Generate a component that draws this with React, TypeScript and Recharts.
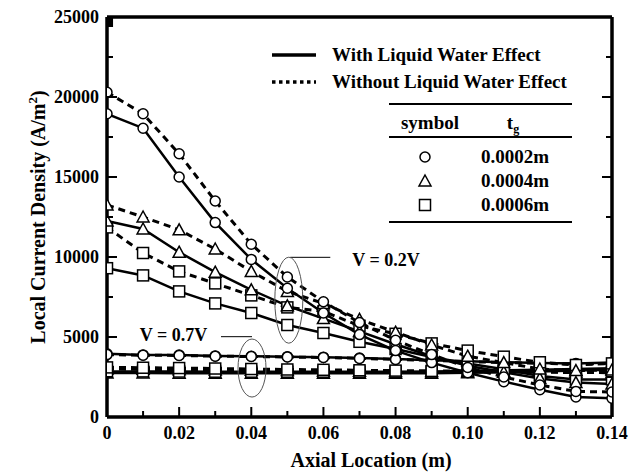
import { LineChart, Line, XAxis, YAxis, ReferenceDot, ReferenceLine } from "recharts";

const FONT = "'Liberation Serif', 'Times New Roman', serif";

// axial positions along the channel (m)
const axialLocation = [0, 0.01, 0.02, 0.03, 0.04, 0.05, 0.06, 0.07, 0.08, 0.09, 0.1, 0.11, 0.12, 0.13, 0.14];

const xTicks = [0, 0.01, 0.02, 0.03, 0.04, 0.05, 0.06, 0.07, 0.08, 0.09, 0.1, 0.11, 0.12, 0.13, 0.14];
const yTicks = [0, 2500, 5000, 7500, 10000, 12500, 15000, 17500, 20000, 22500, 25000];

// V = 0.2 V
const v02WithCircle = [18950, 18050, 15000, 12150, 9850, 8050, 6500, 5150, 4150, 3400, 2770, 2210, 1700, 1250, 1170];
const v02WithoutCircle = [20300, 18950, 16450, 13500, 10800, 8750, 7200, 5900, 4800, 3900, 3100, 2500, 2000, 1600, 1560];
const v02WithTriangle = [12250, 11750, 10300, 9050, 7950, 6950, 6150, 5350, 4550, 3800, 3200, 2800, 2400, 2150, 2060];
const v02WithoutTriangle = [13250, 12500, 11700, 10500, 9100, 7850, 7100, 6100, 5300, 4500, 3800, 3400, 3000, 2900, 2940];
const v02WithSquare = [9300, 8850, 7850, 7100, 6500, 5750, 5250, 4700, 4250, 3750, 3350, 2980, 2560, 2350, 2350];
const v02WithoutSquare = [11850, 10250, 9100, 8350, 7600, 6850, 6600, 5700, 5200, 4600, 4150, 3770, 3420, 3250, 3350];

// V = 0.7 V
const v07WithCircle = [3950, 3880, 3870, 3820, 3800, 3770, 3740, 3680, 3620, 3550, 3480, 3420, 3380, 3350, 3400];
const v07WithoutCircle = [3900, 3860, 3850, 3800, 3780, 3750, 3720, 3660, 3600, 3530, 3460, 3400, 3350, 3320, 3350];
const v07WithTriangle = [2750, 2750, 2740, 2740, 2730, 2730, 2730, 2730, 2730, 2740, 2760, 2800, 2850, 2900, 2950];
const v07WithoutTriangle = [3000, 2980, 2960, 2940, 2920, 2900, 2880, 2860, 2850, 2840, 2830, 2820, 2800, 2780, 2770];
const v07WithSquare = [2850, 2850, 2840, 2830, 2830, 2830, 2830, 2830, 2830, 2840, 2870, 2920, 2960, 3000, 3050];
const v07WithoutSquare = [3100, 3080, 3060, 3030, 3000, 2970, 2950, 2920, 2900, 2880, 2870, 2850, 2830, 2800, 2780];

type Shape = "circle" | "triangle" | "square";

const series: { key: string; values: number[]; shape: Shape; dashed: boolean }[] = [
  { key: "v07WithTriangle", values: v07WithTriangle, shape: "triangle", dashed: false },
  { key: "v07WithoutTriangle", values: v07WithoutTriangle, shape: "triangle", dashed: true },
  { key: "v07WithSquare", values: v07WithSquare, shape: "square", dashed: false },
  { key: "v07WithoutSquare", values: v07WithoutSquare, shape: "square", dashed: true },
  { key: "v07WithCircle", values: v07WithCircle, shape: "circle", dashed: false },
  { key: "v07WithoutCircle", values: v07WithoutCircle, shape: "circle", dashed: true },
  { key: "v02WithSquare", values: v02WithSquare, shape: "square", dashed: false },
  { key: "v02WithoutSquare", values: v02WithoutSquare, shape: "square", dashed: true },
  { key: "v02WithTriangle", values: v02WithTriangle, shape: "triangle", dashed: false },
  { key: "v02WithoutTriangle", values: v02WithoutTriangle, shape: "triangle", dashed: true },
  { key: "v02WithCircle", values: v02WithCircle, shape: "circle", dashed: false },
  { key: "v02WithoutCircle", values: v02WithoutCircle, shape: "circle", dashed: true },
];

const rows = axialLocation.map((x, i) => {
  const row: Record<string, number> = { x };
  series.forEach((s) => (row[s.key] = s.values[i]));
  return row;
});

function Marker({ cx, cy, shape }: { cx: number; cy: number; shape: Shape }) {
  const st = { fill: "#fff", stroke: "#000", strokeWidth: 1.5 };
  if (shape === "circle") return <circle cx={cx} cy={cy} r={5} {...st} />;
  if (shape === "triangle")
    return <polygon points={`${cx},${cy - 6} ${cx + 6},${cy + 5} ${cx - 6},${cy + 5}`} {...st} />;
  return <rect x={cx - 5.5} y={cy - 5.5} width={11} height={11} {...st} />;
}

const isMajorX = (v: number) => Math.round(v * 100) % 2 === 0;
const isMajorY = (v: number) => v % 5000 === 0;
const fmtX = (v: number) => (v === 0 ? "0" : v.toFixed(2));

const tickText = { fontFamily: FONT, fontWeight: 700, fontSize: 18, fill: "#000" };

function BottomTick(props: any) {
  const { x, y, payload } = props;
  const major = isMajorX(payload.value);
  return (
    <g>
      <line x1={x} y1={y} x2={x} y2={y - (major ? 10 : 6)} stroke="#000" strokeWidth={2} />
      {major && (
        <text x={x} y={y + 22} textAnchor="middle" {...tickText}>
          {fmtX(payload.value)}
        </text>
      )}
    </g>
  );
}

function TopTick(props: any) {
  const { x, y, payload } = props;
  const major = isMajorX(payload.value);
  return <line x1={x} y1={y} x2={x} y2={y + (major ? 10 : 6)} stroke="#000" strokeWidth={2} />;
}

function LeftTick(props: any) {
  const { x, y, payload } = props;
  const major = isMajorY(payload.value);
  return (
    <g>
      <line x1={x} y1={y} x2={x + (major ? 10 : 6)} y2={y} stroke="#000" strokeWidth={2} />
      {major && (
        <text x={x - 8} y={y} dy="0.35em" textAnchor="end" {...tickText}>
          {payload.value}
        </text>
      )}
    </g>
  );
}

function RightTick(props: any) {
  const { x, y, payload } = props;
  const major = isMajorY(payload.value);
  return <line x1={x} y1={y} x2={x - (major ? 10 : 6)} y2={y} stroke="#000" strokeWidth={2} />;
}

const axisLine = { stroke: "#000", strokeWidth: 3.5 };

const labelText = { fontFamily: FONT, fontWeight: 700, fontSize: 18, fill: "#000" };
const legendText = { fontFamily: FONT, fontWeight: 700, fontSize: 19, fill: "#000" };

function VoltageLabel(text: string) {
  return (p: any) => (
    <text x={p.cx} y={p.cy} dy="0.35em" textAnchor="start" {...labelText}>
      {text}
    </text>
  );
}

function Ellipse(rx: number, ry: number) {
  return (p: any) => <ellipse cx={p.cx} cy={p.cy} rx={rx} ry={ry} fill="none" stroke="#555" strokeWidth={1} />;
}

function LegendOverlay() {
  return (
    <svg width={637} height={474} style={{ position: "absolute", left: 0, top: 0, pointerEvents: "none" }}>
      <g {...legendText}>
        <line x1={272} y1={55} x2={316} y2={55} stroke="#000" strokeWidth={3.5} />
        <text x={332} y={61}>With Liquid Water Effect</text>
        <line x1={272} y1={82} x2={316} y2={82} stroke="#000" strokeWidth={3.5} strokeDasharray="3.5 3.5" />
        <text x={332} y={88}>Without Liquid Water Effect</text>

        <line x1={389} y1={104} x2={572} y2={104} stroke="#000" strokeWidth={2} />
        <text x={430} y={129} textAnchor="middle">symbol</text>
        <text x={513} y={129} textAnchor="middle">
          t<tspan fontSize={12} dy={4}>g</tspan>
        </text>
        <line x1={389} y1={137} x2={572} y2={137} stroke="#000" strokeWidth={2} />

        <Marker cx={425} cy={157} shape="circle" />
        <text x={481} y={163}>0.0002m</text>
        <Marker cx={425} cy={181} shape="triangle" />
        <text x={481} y={187}>0.0004m</text>
        <Marker cx={425} cy={205} shape="square" />
        <text x={481} y={211}>0.0006m</text>
        <line x1={389} y1={222} x2={572} y2={222} stroke="#000" strokeWidth={2} />
      </g>

      <text x={371} y={467} textAnchor="middle" fontFamily={FONT} fontWeight={700} fontSize={20}>
        Axial Location (m)
      </text>
      <text
        x={45}
        y={217}
        textAnchor="middle"
        transform="rotate(-90 45 217)"
        fontFamily={FONT}
        fontWeight={700}
        fontSize={20}
      >
        Local Current Density (A/m<tspan fontSize={13} dy={-8}>2</tspan>
        <tspan dy={8}>)</tspan>
      </text>
    </svg>
  );
}

export default function App() {
  return (
    <div style={{ position: "absolute", left: 0, top: 0, width: 637, height: 474, background: "#fff" }}>
      <LineChart width={637} height={474} data={rows} margin={{ top: 12, right: 15, bottom: 27, left: 47 }}>
        <XAxis
          dataKey="x"
          type="number"
          domain={[0, 0.14]}
          ticks={xTicks}
          interval={0}
          height={30}
          tickSize={0}
          tickMargin={0}
          axisLine={axisLine}
          tickLine={false}
          tick={BottomTick}
          allowDataOverflow
        />
        <XAxis
          xAxisId="top"
          orientation="top"
          type="number"
          domain={[0, 0.14]}
          ticks={xTicks}
          interval={0}
          height={5}
          tickSize={0}
          tickMargin={0}
          axisLine={axisLine}
          tickLine={false}
          tick={TopTick}
          allowDataOverflow
        />
        <YAxis
          type="number"
          domain={[0, 25000]}
          ticks={yTicks}
          interval={0}
          width={60}
          tickSize={0}
          tickMargin={0}
          axisLine={axisLine}
          tickLine={false}
          tick={LeftTick}
          allowDataOverflow
        />
        <YAxis
          yAxisId="right"
          orientation="right"
          type="number"
          domain={[0, 25000]}
          ticks={yTicks}
          interval={0}
          width={10}
          tickSize={0}
          tickMargin={0}
          axisLine={axisLine}
          tickLine={false}
          tick={RightTick}
          allowDataOverflow
        />

        {series.map((s) => (
          <Line
            key={s.key}
            dataKey={s.key}
            type="linear"
            stroke="#000"
            strokeWidth={s.dashed ? 3 : 2.5}
            strokeDasharray={s.dashed ? "7 5" : undefined}
            isAnimationActive={false}
            dot={(p: any) => <Marker key={`${s.key}-${p.index}`} cx={p.cx} cy={p.cy} shape={s.shape} />}
            activeDot={false}
          />
        ))}

        {/* V = 0.2 V group callout */}
        <ReferenceDot x={0.0504} y={7300} r={0} shape={Ellipse(14, 43)} />
        <ReferenceLine segment={[{ x: 0.0508, y: 9980 }, { x: 0.0619, y: 9980 }]} stroke="#000" strokeWidth={1} />
        <ReferenceDot x={0.068} y={9820} r={0} shape={VoltageLabel("V = 0.2V")} />

        {/* V = 0.7 V group callout */}
        <ReferenceDot x={0.0402} y={3060} r={0} shape={Ellipse(14, 29)} />
        <ReferenceLine segment={[{ x: 0.0316, y: 5020 }, { x: 0.0402, y: 5020 }]} stroke="#000" strokeWidth={1} />
        <ReferenceDot x={0.0091} y={5125} r={0} shape={VoltageLabel("V = 0.7V")} />
      </LineChart>
      <LegendOverlay />
    </div>
  );
}
